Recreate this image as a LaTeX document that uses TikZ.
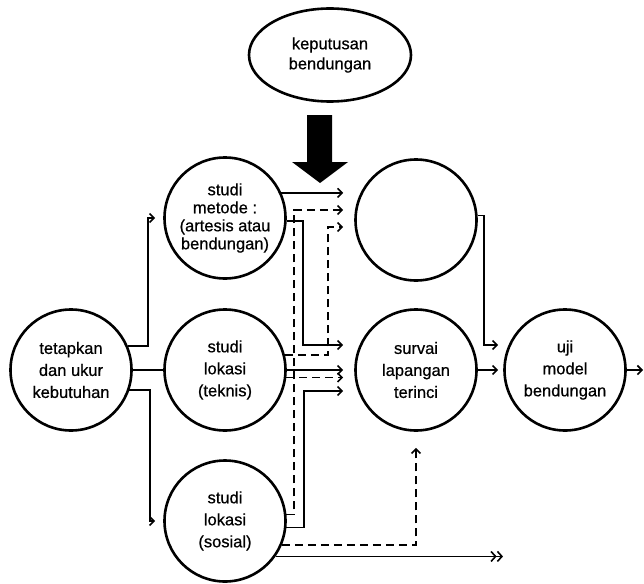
\documentclass[tikz,border=0pt]{standalone}
\usepackage{fontspec}
\setmainfont{Liberation Sans}[BoldFont={Liberation Sans},BoldFeatures={FakeBold=0.6}]
\usetikzlibrary{arrows.meta,shapes.geometric}
\begin{document}
\begin{tikzpicture}[x=1pt,y=-1pt,
  txt/.style={align=center,font=\fontsize{16.5}{22}\selectfont\bfseries},
  circ/.style={circle,draw,line width=2.6pt,minimum size=121pt,inner sep=0pt,txt},
  con/.style={line width=1.6pt},
  arr/.style={-{Straight Barb[length=4.5pt,width=9pt,line width=1.6pt]}},
  dblarr/.style={-{Straight Barb[length=4.5pt,width=10pt,line width=1.6pt]Straight Barb[length=4.5pt,width=10pt,line width=1.6pt]}},
  dsh/.style={dash pattern=on 8pt off 5pt},
]
\useasboundingbox (0,0) rectangle (644,583);

\node[ellipse,draw,line width=2.6pt,minimum width=162pt,minimum height=93pt,inner sep=0pt,txt] (kep) at (330,55) {keputusan\\[-2pt]bendungan};
\node[circ] (tet) at (71,370) {tetapkan\\dan ukur\\kebutuhan};
\node[circ] (met) at (225,218) {studi\\[-4pt]metode :\\[-4pt](artesis atau\\[-4pt]bendungan)};
\node[circ] (tek) at (225,370) {studi\\lokasi\\(teknis)};
\node[circ] (sos) at (225,521) {studi\\lokasi\\(sosial)};
\node[circ] (emp) at (416,220) {};
\node[circ] (sur) at (416,370) {survai\\lapangan\\terinci};
\node[circ] (uji) at (565,370) {uji\\model\\bendungan};

\coordinate (o1) at (503,556);
\coordinate (o2) at (643,370);

% big black arrow
\fill (307,115) -- (332,115) -- (332,162) -- (348,162) -- (320,183) -- (292,162) -- (307,162) -- cycle;

% from tetapkan
\draw[con,arr] (tet.23) -| ([xshift=-15pt]met.west) -- ([xshift=-8pt]met.west);
\draw[con] (tet.east) -- (tek.west);
\draw[con,arr] (tet.-19) -| ([xshift=-13pt]sos.west) -- ([xshift=-8pt]sos.west);

% into empty circle
\draw[con,arr,shorten >=11pt] (met.24) -- (met.24 -| emp.west);
\draw[con,dsh,arr] (sos.6) -| ([xshift=-60pt,yshift=10pt]emp.west) -- ([xshift=-11pt,yshift=10pt]emp.west);
\draw[con,dsh,arr] (tek.14) -| ([xshift=-26pt,yshift=-7pt]emp.west) -- ([xshift=-11pt,yshift=-7pt]emp.west);

% into survai
\draw[con,arr] (met.-3) -| ([xshift=-51pt,yshift=25pt]sur.west) -- ([xshift=-11pt,yshift=25pt]sur.west);
\draw[con,arr,shorten >=11pt] (tek.east) -- (sur.west);
\draw[con,dsh,arr,shorten >=11pt] (tek.-7) -- (tek.-7 -| sur.west);
\draw[con,arr] (sos.-6) -| ([xshift=-50pt,yshift=-21pt]sur.west) -- ([xshift=-11pt,yshift=-21pt]sur.west);
\draw[con,dsh,arr] (sos.-23) -| ([yshift=-16pt]sur.south);
\draw[con,dblarr] (sos.-35) -- (sos.-35 -| o1);

% into uji
\draw[con,arr] (emp.4) -| ([xshift=-19pt,yshift=25pt]uji.west) -- ([xshift=-5pt,yshift=25pt]uji.west);
\draw[con,arr,shorten >=5pt] (sur.east) -- (uji.west);
\draw[con,arr] (uji.east) -- (o2);
\end{tikzpicture}
\end{document}
